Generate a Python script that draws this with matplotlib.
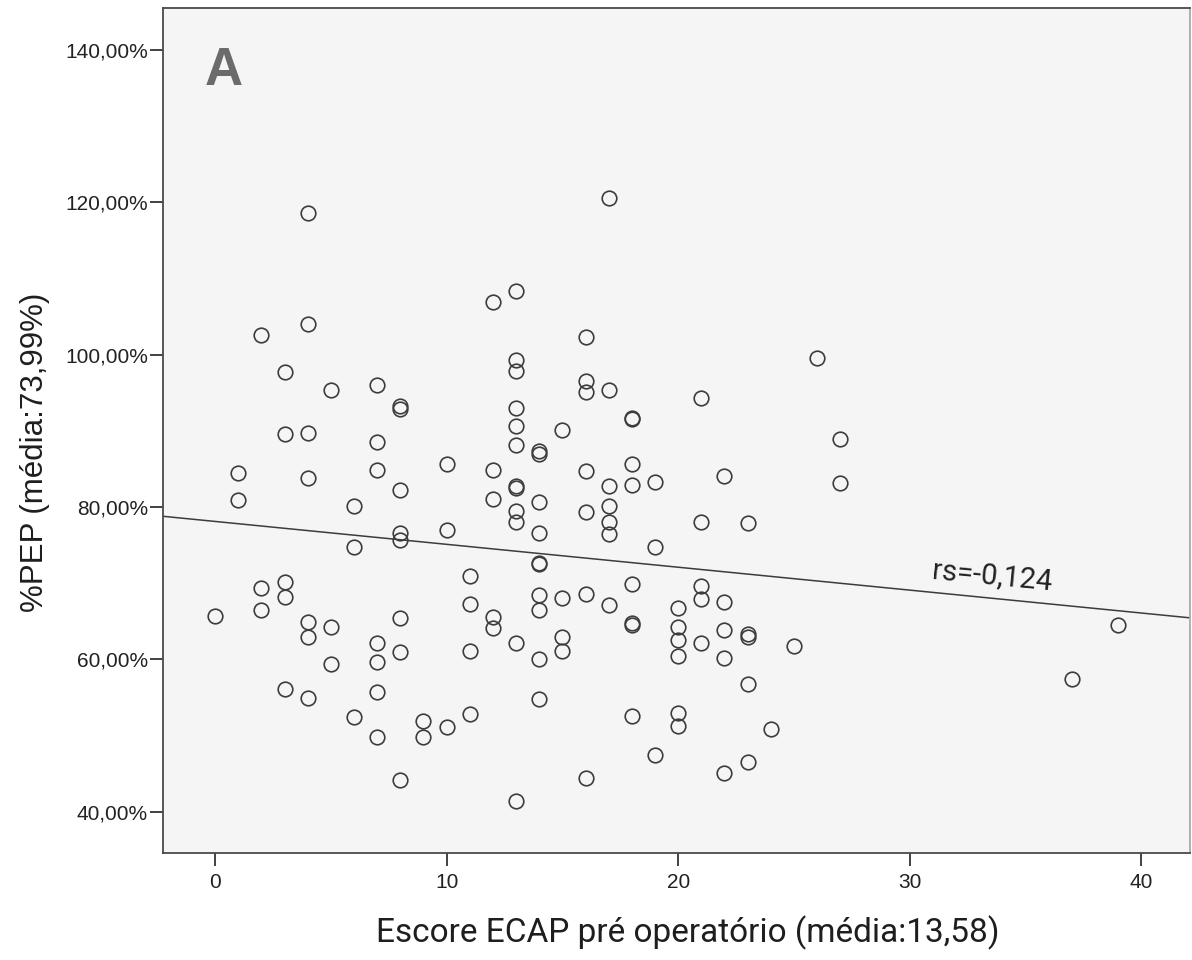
import matplotlib.pyplot as plt
import numpy as np
from matplotlib.ticker import FuncFormatter

# Escore ECAP pré operatório (x) e %PEP (y)
ecap = [0,
        1, 1,
        2, 2, 2,
        3, 3, 3, 3, 3,
        4, 4, 4, 4, 4, 4, 4,
        5, 5, 5,
        6, 6, 6,
        7, 7, 7, 7, 7, 7, 7,
        8, 8, 8, 8, 8, 8, 8, 8,
        9, 9,
        10, 10, 10,
        11, 11, 11, 11,
        12, 12, 12, 12, 12,
        13, 13, 13, 13, 13, 13, 13, 13, 13, 13, 13, 13,
        14, 14, 14, 14, 14, 14, 14, 14, 14, 14,
        15, 15, 15, 15,
        16, 16, 16, 16, 16, 16, 16,
        17, 17, 17, 17, 17, 17, 17,
        18, 18, 18, 18, 18, 18, 18, 18,
        19, 19, 19,
        20, 20, 20, 20, 20, 20,
        21, 21, 21, 21, 21,
        22, 22, 22, 22, 22,
        23, 23, 23, 23, 23,
        24, 25, 26, 27, 27, 37, 39]

pep = [65.7,
       84.5, 80.9,
       102.6, 69.4, 66.5,
       97.7, 89.6, 70.2, 68.2, 56.1,
       118.6, 104.0, 89.7, 83.8, 64.9, 63.0, 54.9,
       95.3, 64.2, 59.4,
       80.1, 74.8, 52.5,
       96.0, 88.5, 84.8, 62.1, 59.6, 55.7, 49.8,
       93.3, 92.9, 82.3, 76.6, 75.7, 65.4, 61.0, 44.2,
       51.9, 49.8,
       85.7, 77.0, 51.1,
       70.9, 67.3, 61.1, 52.8,
       106.9, 84.9, 81.0, 65.6, 64.1,
       108.3, 99.3, 97.8, 93.0, 90.7, 88.1, 82.7, 82.5, 79.5, 78.1, 62.1, 41.4,
       87.3, 87.0, 80.7, 76.6, 72.7, 72.5, 68.4, 66.5, 60.1, 54.8,
       90.1, 68.0, 63.0, 61.1,
       102.3, 96.6, 95.1, 84.7, 79.3, 68.6, 44.5,
       120.5, 95.3, 82.8, 80.2, 78.0, 76.4, 67.1,
       91.7, 91.5, 85.6, 82.9, 69.9, 64.8, 64.5, 52.6,
       83.3, 74.7, 47.4,
       66.8, 64.3, 62.6, 60.5, 53.0, 51.2,
       94.3, 78.1, 69.7, 67.9, 62.2,
       84.1, 67.5, 63.9, 60.2, 45.1,
       77.9, 63.4, 62.9, 56.8, 46.5,
       50.9, 61.8, 99.5, 88.9, 83.1, 57.4, 64.5]

x_ticks = [0, 10, 20, 30, 40]
y_ticks = [40, 60, 80, 100, 120, 140]
rs_label = 'rs=-0,124'

x = np.array(ecap, dtype=float)
y = np.array(pep, dtype=float)

fig = plt.figure(figsize=(11.92, 9.6), dpi=100)
ax = fig.add_axes([0.1367, 0.1115, 0.8615, 0.8802])
ax.set_facecolor('#f5f5f5')

ax.plot(x, y, linestyle='none', marker='o', ms=10.5, mfc='none',
        mec='#3c3c3c', mew=1.2)

# reta de ajuste (mínimos quadrados)
xlim = (-2.25, 42.1)
slope, intercept = np.polyfit(x, y, 1)
xl = np.array(xlim)
ax.plot(xl, intercept + slope * xl, color='#3c3c3c', lw=1.1)

ax.set_xlim(*xlim)
ax.set_ylim(34.6, 145.5)
ax.set_xticks(x_ticks)
ax.set_yticks(y_ticks)
ax.yaxis.set_major_formatter(FuncFormatter(lambda v, p: f'{v:.2f}%'.replace('.', ',')))
ax.tick_params(direction='out', length=9.4, width=1.3, color='#333333',
               labelsize=15, labelcolor='#222222')
ax.tick_params(axis='x', pad=5)
ax.tick_params(axis='y', pad=1.5)
for lab in ax.get_xticklabels() + ax.get_yticklabels():
    lab.set_family('Liberation Sans')

for s in ax.spines.values():
    s.set_color('#4a4a4a')
    s.set_linewidth(1.3)
ax.spines['right'].set_color('#aaaaaa')

ax.set_xlabel('Escore ECAP pré operatório (média:13,58)', family='Roboto',
              fontsize=24, color='#1e1e1e')
ax.xaxis.set_label_coords(0.511, -0.0734)
ax.set_ylabel('%PEP (média:73,99%)', family='Liberation Sans',
              fontsize=22.5, color='#1e1e1e')
ax.yaxis.set_label_coords(-0.110, 0.4746)

ax.text(-0.45, 137.2, 'A', family='Liberation Sans', fontweight='bold',
        fontsize=38, color='#6b6b6b', ha='left', va='center')
ax.text(33.56, 70.84, rs_label, family='Roboto', fontsize=21,
        color='#222222', rotation=-5.5, ha='center', va='center')

fig.savefig('out.png', dpi=100)
